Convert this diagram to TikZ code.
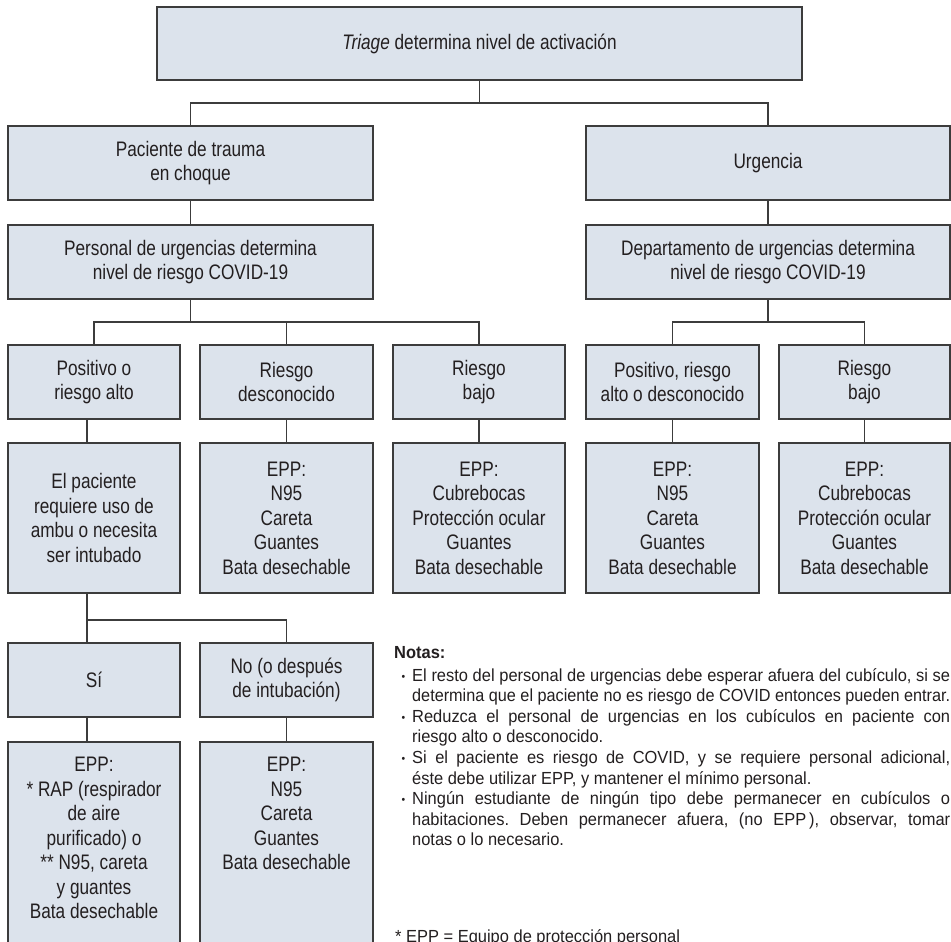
\documentclass[tikz,border=0pt]{standalone}
\usepackage{fontspec}
\setmainfont{Liberation Sans}
\newfontfamily\bxf[FakeStretch=0.82]{Liberation Sans}
\newfontfamily\ntf[FakeStretch=0.94]{Liberation Sans}
\usepackage{graphicx}
\frenchspacing
\definecolor{boxfill}{HTML}{DCE3EC}
\definecolor{edge}{HTML}{3C3C3C}
\definecolor{ink}{HTML}{231F20}
\newdimen\nw \nw=538pt
\newsavebox\nbox
\newcommand\nbul{\llap{\raisebox{1pt}{\fontsize{11}{11}\selectfont •}\hspace{7pt}}}
\newcommand\jl[2][]{\hbox{#1\sbox\nbox{#2}\ifdim\wd\nbox>\nw\resizebox{\nw}{\height}{\usebox\nbox}\else\hbox to\nw{\spaceskip=0.278em plus 1fil minus 0.05em\relax #2}\fi}}
\newcommand\nl[2][]{\hbox{#1#2}}
\tikzset{
  bx/.style={draw=edge, fill=boxfill, line width=1.4pt, inner sep=0pt, align=center,
    font=\bxf\fontsize{21}{24.5}\selectfont, text=ink},
  lbl/.style={inner sep=0pt, align=center, font=\bxf\fontsize{21}{24.5}\selectfont, text=ink},
  cn/.style={draw=edge, line width=1.4pt},
  nt/.style={inner sep=0pt, text=ink, font=\ntf\fontsize{17.5}{20.6}\selectfont}
}
\begin{document}
\begin{tikzpicture}[x=1pt,y=-1pt]
\useasboundingbox (0,0) rectangle (951,942);
\fill[white] (0,0) rectangle (951,942);
\clip (0,0) rectangle (951,942);
% level 0
\node[bx, minimum width=645pt, minimum height=73pt] (top) at (479.5,43.5) {\textit{Triage} determina nivel de activación};
% level 1
\node[bx, minimum width=365pt, minimum height=74pt] (trauma) at (190.5,163) {Paciente de trauma\\en choque};
\node[bx, minimum width=364pt, minimum height=74pt] (urg) at (768,163) {Urgencia};
% level 2
\node[bx, minimum width=365pt, minimum height=74pt] (pers) at (190.5,262) {Personal de urgencias determina\\nivel de riesgo COVID-19};
\node[bx, minimum width=364pt, minimum height=74pt] (dept) at (768,262) {Departamento de urgencias determina\\nivel de riesgo COVID-19};
% level 3
\node[bx, minimum width=172pt, minimum height=74pt] (pos) at (94,382) {Positivo o\\riesgo alto};
\node[bx, minimum width=173pt, minimum height=74pt] (desc) at (286.5,382) {Riesgo\\desconocido};
\node[bx, minimum width=172pt, minimum height=74pt] (bajo1) at (479,382) {Riesgo\\bajo};
\node[bx, minimum width=173pt, minimum height=74pt] (posR) at (672.5,382) {Positivo, riesgo\\alto o desconocido};
\node[bx, minimum width=171pt, minimum height=74pt] (bajoR) at (864.5,382) {Riesgo\\bajo};
% level 4
\node[bx, minimum width=172pt, minimum height=150pt] (pac) at (94,518) {El paciente\\requiere uso de\\ambu o necesita\\ser intubado};
\node[bx, minimum width=173pt, minimum height=150pt] (epp1) at (286.5,518) {EPP:\\N95\\Careta\\Guantes\\Bata desechable};
\node[bx, minimum width=172pt, minimum height=150pt] (epp2) at (479,518) {EPP:\\Cubrebocas\\Protección ocular\\Guantes\\Bata desechable};
\node[bx, minimum width=173pt, minimum height=150pt] (epp3) at (672.5,518) {EPP:\\N95\\Careta\\Guantes\\Bata desechable};
\node[bx, minimum width=171pt, minimum height=150pt] (epp4) at (864.5,518) {EPP:\\Cubrebocas\\Protección ocular\\Guantes\\Bata desechable};
% level 5
\node[bx, minimum width=172pt, minimum height=74pt] (si) at (94,680) {Sí};
\node[bx, minimum width=173pt, minimum height=74pt] (no) at (286.5,680) {No (o después\\de intubación)};
% level 6
\node[bx, minimum width=172pt, minimum height=260pt] (eppsi) at (94,872) {};
\node[bx, minimum width=173pt, minimum height=260pt] (eppno) at (286.5,872) {};
\node[lbl, anchor=north] (tsi) at ([yshift=-16pt]eppsi.north) {EPP:\\* RAP (respirador\\de aire\\purificado) o\\** N95, careta\\y guantes\\Bata desechable};
\node[lbl, anchor=north] (tno) at ([yshift=-16pt]eppno.north) {EPP:\\N95\\Careta\\Guantes\\Bata desechable};
% connectors
\coordinate (j0) at (479.5,103);
\coordinate (j1) at (190.5,322);
\coordinate (j2) at (768,322);
\coordinate (j3) at (87,620);
\draw[cn] (top.south) -- (j0);
\draw[cn] (trauma.north) |- (j0) -| (urg.north);
\draw[cn] (trauma.south) -- (pers.north);
\draw[cn] (urg.south) -- (dept.north);
\draw[cn] (pers.south) -- (j1);
\draw[cn] (pos.north) |- (j1) -| (bajo1.north);
\draw[cn] (desc.north) -- (desc.north |- j1);
\draw[cn] (dept.south) -- (j2);
\draw[cn] (posR.north) |- (j2) -| (bajoR.north);
\draw[cn] ([xshift=-7pt]pos.south) -- ([xshift=-7pt]pac.north);
\draw[cn] (desc.south) -- (epp1.north);
\draw[cn] (bajo1.south) -- (epp2.north);
\draw[cn] (posR.south) -- (epp3.north);
\draw[cn] (bajoR.south) -- (epp4.north);
\draw[cn] ([xshift=-7pt]pac.south) -- (j3) -| (no.north);
\draw[cn] (j3) -- ([xshift=-7pt]si.north);
\draw[cn] ([xshift=-7pt]si.south) -- ([xshift=-7pt]eppsi.north);
\draw[cn] (no.south) -- (eppno.north);
% notes
\node[nt, anchor=base west, font=\ntf\bfseries\fontsize{17.5}{20.6}\selectfont] (notas) at (394,658) {Notas:};
\node[nt, anchor=base west] (notes) at (412,681) {\vtop{\baselineskip=20.6pt\lineskiplimit=-50pt\lineskip=0pt
\jl[\nbul]{El resto del personal de urgencias debe esperar afuera del cubículo, si se}
\jl{determina que el paciente no es riesgo de COVID entonces pueden entrar.}
\jl[\nbul]{Reduzca el personal de urgencias en los cubículos en paciente con}
\nl{riesgo alto o desconocido.}
\jl[\nbul]{Si el paciente es riesgo de COVID, y se requiere personal adicional,}
\nl{éste debe utilizar EPP, y mantener el mínimo personal.}
\jl[\nbul]{Ningún estudiante de ningún tipo debe permanecer en cubículos o}
\jl{habitaciones. Deben permanecer afuera, (no EPP\thinspace), observar, tomar}
\nl{notas o lo necesario.}}};
\node[nt, anchor=base west] (fn) at (395,942) {* EPP = Equipo de protección personal};
\end{tikzpicture}
\end{document}
